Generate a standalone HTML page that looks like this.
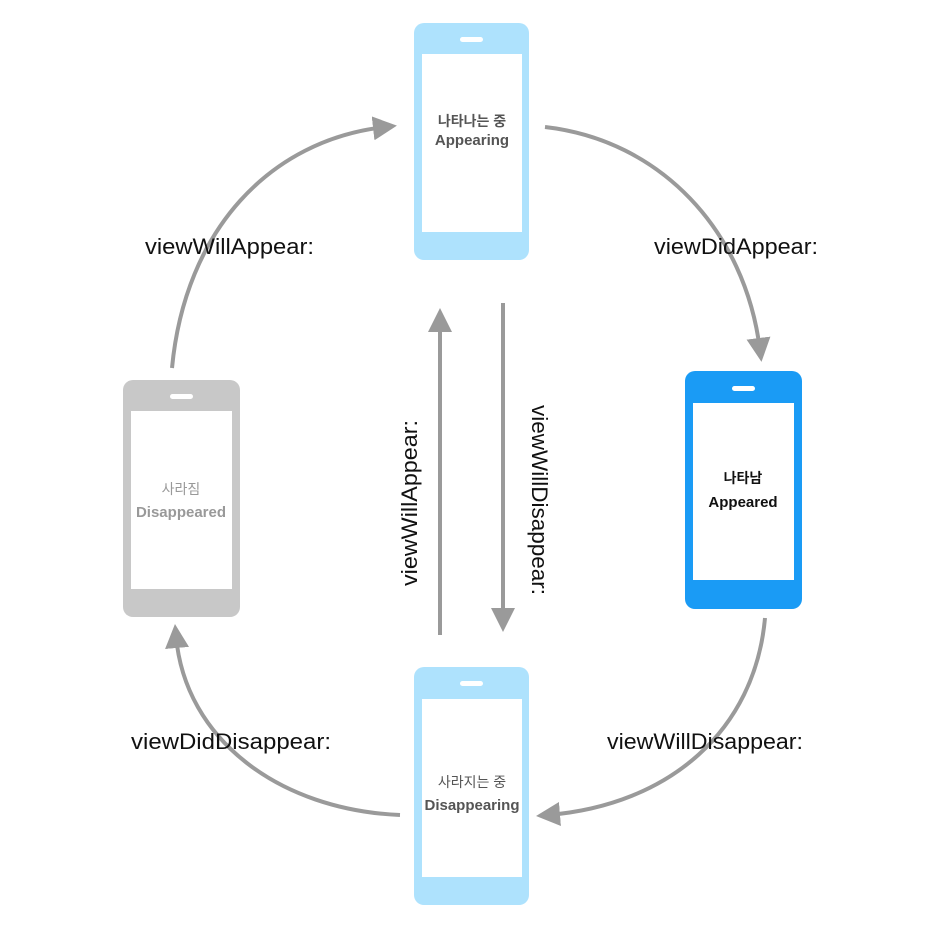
<!DOCTYPE html>
<html><head><meta charset="utf-8"><style>
html,body{margin:0;padding:0;background:#fff;}
svg{display:block;}
text{font-family:"Liberation Sans","Noto Sans CJK KR",sans-serif;}
</style></head><body>
<svg width="945" height="940" viewBox="0 0 945 940" xmlns="http://www.w3.org/2000/svg">
<defs>
<marker id="ah" markerWidth="6" markerHeight="6" refX="3" refY="3" orient="auto" markerUnits="strokeWidth">
<path d="M0,0 L6,3 L0,6 z" fill="#9a9a9a"/></marker>
</defs>
<g fill="none" stroke="#9a9a9a" stroke-width="4">
<path d="M172,368 C185,230 270,140 385,127" marker-end="url(#ah)"/>
<path d="M545,127 C660,140 745,230 760,350" marker-end="url(#ah)"/>
<path d="M765,618 C755,730 670,805 548,815" marker-end="url(#ah)"/>
<path d="M400,815 C280,810 185,740 176,636" marker-end="url(#ah)"/>
<path d="M440,635 L440,320" marker-end="url(#ah)"/>
<path d="M503,303 L503,620" marker-end="url(#ah)"/>
</g>
<g>
<rect x="414" y="23" width="115" height="237" rx="10" fill="#aee2fd"/>
<rect x="422" y="54" width="100" height="178" fill="#fff"/>
<rect x="460" y="37" width="23" height="5" rx="2.5" fill="#fff"/>
<rect x="685" y="371" width="117" height="238" rx="10" fill="#1a9bf5"/>
<rect x="693" y="403" width="101" height="177" fill="#fff"/>
<rect x="732" y="386" width="23" height="5" rx="2.5" fill="#fff"/>
<rect x="123" y="380" width="117" height="237" rx="10" fill="#c8c8c8"/>
<rect x="131" y="411" width="101" height="178" fill="#fff"/>
<rect x="170" y="394" width="23" height="5" rx="2.5" fill="#fff"/>
<rect x="414" y="667" width="115" height="238" rx="10" fill="#aee2fd"/>
<rect x="422" y="699" width="100" height="178" fill="#fff"/>
<rect x="460" y="681" width="23" height="5" rx="2.5" fill="#fff"/>
</g>
<g font-weight="bold" text-anchor="middle" font-size="14">
<text x="472" y="126" fill="#555">나타나는 중</text>
<text x="472" y="145" fill="#555" font-size="15">Appearing</text>
<text x="743" y="483" fill="#111">나타남</text>
<text x="743" y="507" fill="#111" font-size="15">Appeared</text>
<text x="181" y="494" fill="#999" font-weight="normal">사라짐</text>
<text x="181" y="517" fill="#999" font-size="15">Disappeared</text>
<text x="472" y="787" fill="#555" font-weight="normal">사라지는 중</text>
<text x="472" y="810" fill="#555" font-size="15">Disappearing</text>
</g>
<g font-size="22" fill="#111">
<text x="145" y="254" textLength="169" lengthAdjust="spacingAndGlyphs">viewWillAppear:</text>
<text x="654" y="254" textLength="164" lengthAdjust="spacingAndGlyphs">viewDidAppear:</text>
<text x="607" y="749" textLength="196" lengthAdjust="spacingAndGlyphs">viewWillDisappear:</text>
<text x="131" y="749" textLength="200" lengthAdjust="spacingAndGlyphs">viewDidDisappear:</text>
<text transform="translate(417,503) rotate(-90)" text-anchor="middle" textLength="166" lengthAdjust="spacingAndGlyphs">viewWillAppear:</text>
<text transform="translate(532,500) rotate(90)" text-anchor="middle" textLength="190" lengthAdjust="spacingAndGlyphs">viewWillDisappear:</text>
</g>
</svg>
</body></html>
